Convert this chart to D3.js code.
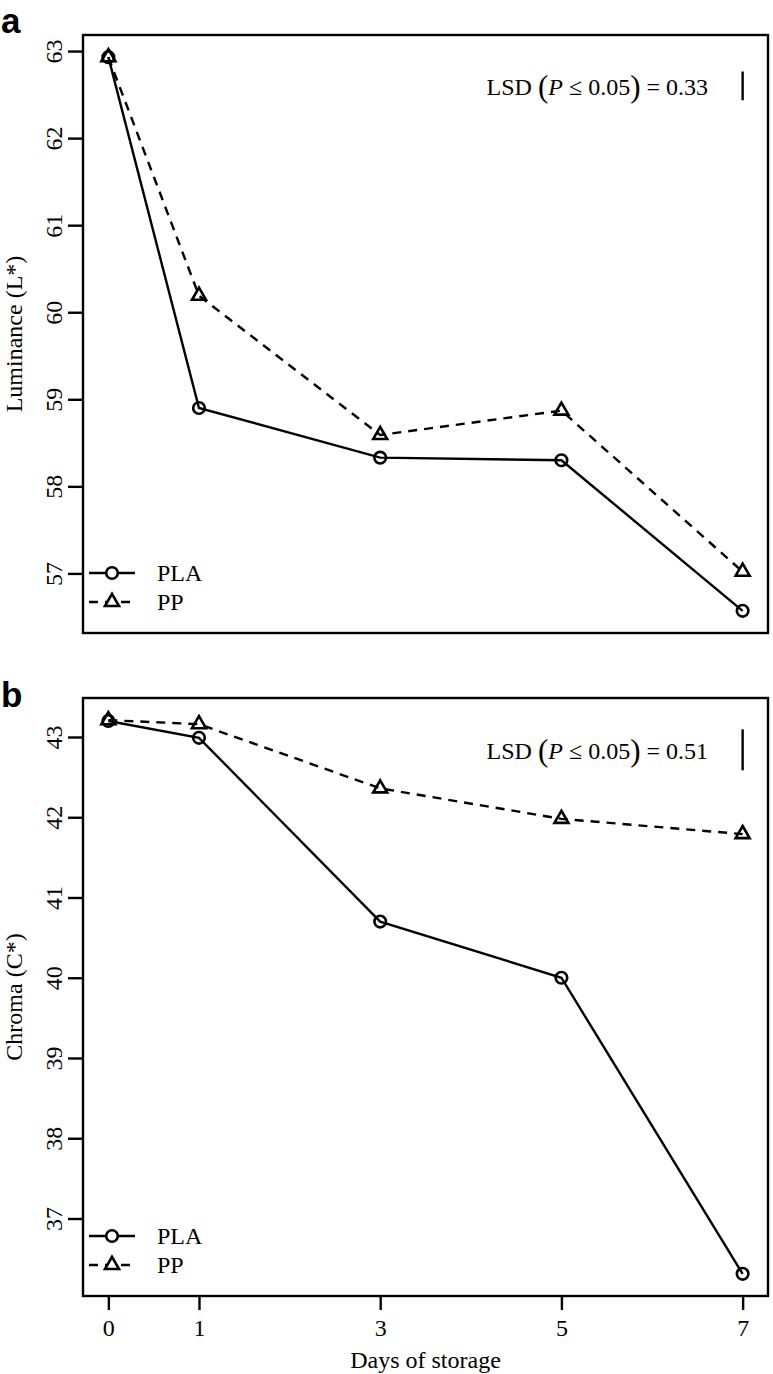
<!DOCTYPE html>
<html><head><meta charset="utf-8">
<script src="https://cdn.jsdelivr.net/npm/d3@7"></script>
<style>
body{margin:0;background:#fff;}
svg{display:block;}
text{font-family:"Liberation Serif","Times New Roman",serif;fill:#000;}
</style></head>
<body>
<script>
// Data
const days = [0, 1, 3, 5, 7];
const xTicks = [0, 1, 3, 5, 7];
const series = ["PLA", "PP"];
const luminancePLA = [62.93, 58.90, 58.33, 58.30, 56.57];
const luminancePP  = [62.93, 60.19, 58.59, 58.87, 57.02];
const chromaPLA = [43.20, 42.99, 40.70, 40.00, 36.31];
const chromaPP  = [43.21, 43.16, 42.36, 41.98, 41.79];
const luminanceTicks = [57, 58, 59, 60, 61, 62, 63];
const chromaTicks = [37, 38, 39, 40, 41, 42, 43];
const lsdValues = [0.33, 0.51];
const lsdCenters = [62.6, 42.84];
const panelLetters = ["a", "b"];
const yTitles = ["Luminance (L*)", "Chroma (C*)"];
const xTitle = "Days of storage";

const W = 773, H = 1374;
const svg = d3.select("body").append("svg").attr("width", W).attr("height", H);

const left = 83, right = 768;
const LW = 2.4;
const xPad = (d3.max(days) - d3.min(days)) * 0.04;
const x = d3.scaleLinear().domain([d3.min(days) - xPad, d3.max(days) + xPad]).range([left, right]);

const panels = [
  {top: 35, bottom: 633, pla: luminancePLA, pp: luminancePP, ticks: luminanceTicks, showX: false, letterY: 33},
  {top: 698, bottom: 1296, pla: chromaPLA, pp: chromaPP, ticks: chromaTicks, showX: true, letterY: 707}
];

function trianglePath(cx, cy, s) {
  const h = s * Math.sqrt(3) / 2;
  return `M${cx},${cy - h * 2/3}L${cx + s/2},${cy + h/3}L${cx - s/2},${cy + h/3}Z`;
}

panels.forEach((p, i) => {
  const all = p.pla.concat(p.pp);
  const ext = d3.extent(all);
  const pad = (ext[1] - ext[0]) * 0.04;
  const y = d3.scaleLinear().domain([ext[0] - pad, ext[1] + pad]).range([p.bottom, p.top]);
  const g = svg.append("g");

  // box
  g.append("rect").attr("x", left).attr("y", p.top).attr("width", right - left).attr("height", p.bottom - p.top)
    .attr("fill", "none").attr("stroke", "#000").attr("stroke-width", LW);

  // y axis
  const yAxis = d3.axisLeft(y).tickValues(p.ticks).tickSize(15).tickFormat(d3.format("d"));
  const ya = g.append("g").attr("transform", `translate(${left},0)`).call(yAxis);
  ya.select(".domain").remove();
  ya.selectAll(".tick line").attr("stroke", "#000").attr("stroke-width", LW);
  ya.selectAll(".tick text").attr("font-size", 24).attr("font-family", "Liberation Serif")
    .attr("x", 0).attr("dy", 0).attr("text-anchor", "middle")
    .attr("transform", "translate(-22,0) rotate(-90)").attr("y", 1);

  // x axis
  if (p.showX) {
    const xAxis = d3.axisBottom(x).tickValues(xTicks).tickSize(14).tickFormat(d3.format("d"));
    const xa = g.append("g").attr("transform", `translate(0,${p.bottom})`).call(xAxis);
    xa.select(".domain").remove();
    xa.selectAll(".tick line").attr("stroke", "#000").attr("stroke-width", LW);
    xa.selectAll(".tick text").attr("font-size", 24).attr("font-family", "Liberation Serif")
      .attr("y", 23).attr("dy", "0.71em");
    g.append("text").attr("x", (left + right) / 2).attr("y", 1368).attr("text-anchor", "middle")
      .attr("font-size", 24).text(xTitle);
  }

  // y title
  g.append("text").attr("transform", `translate(22,${(p.top + p.bottom) / 2}) rotate(-90)`)
    .attr("text-anchor", "middle").attr("font-size", 24).text(yTitles[i]);

  // panel letter
  g.append("text").attr("x", 1).attr("y", p.letterY).attr("font-size", 35).attr("font-weight", "bold")
    .style("font-family", "'Liberation Sans', Arial, sans-serif").text(panelLetters[i]);

  const line = d3.line().x((d, j) => x(days[j])).y(d => y(d));

  // PP dashed
  g.append("path").datum(p.pp).attr("d", line).attr("fill", "none").attr("stroke", "#000")
    .attr("stroke-width", LW).attr("stroke-dasharray", "9,7");
  // PLA solid
  g.append("path").datum(p.pla).attr("d", line).attr("fill", "none").attr("stroke", "#000")
    .attr("stroke-width", LW);

  g.selectAll(".tri").data(p.pp).enter().append("path")
    .attr("d", (d, j) => trianglePath(x(days[j]), y(d), 14))
    .attr("fill", "none").attr("stroke", "#000").attr("stroke-width", 2.6);
  g.selectAll(".circ").data(p.pla).enter().append("circle")
    .attr("cx", (d, j) => x(days[j])).attr("cy", d => y(d)).attr("r", 5.8)
    .attr("fill", "none").attr("stroke", "#000").attr("stroke-width", 2.6);

  // LSD bar
  const lsd = lsdValues[i];
  const c = lsdCenters[i];
  g.append("line").attr("x1", x(7)).attr("x2", x(7)).attr("y1", y(c + lsd / 2)).attr("y2", y(c - lsd / 2))
    .attr("stroke", "#000").attr("stroke-width", LW);
  const ty = y(c) + 9;
  const t = g.append("text").attr("x", 708).attr("y", ty).attr("text-anchor", "end").attr("font-size", 24);
  t.append("tspan").text("LSD ");
  t.append("tspan").attr("font-size", 31).attr("dy", 2).text("(");
  t.append("tspan").attr("font-style", "italic").attr("dy", -2).text("P");
  t.append("tspan").text(" \u2264 0.05");
  t.append("tspan").attr("font-size", 31).attr("dy", 2).text(")");
  t.append("tspan").attr("dy", -2).text(" = " + lsd.toFixed(2));

  // legend
  const legY = [p.bottom - 60, p.bottom - 31];
  const lg = g.append("g");
  lg.append("line").attr("x1", 89).attr("x2", 135).attr("y1", legY[0]).attr("y2", legY[0])
    .attr("stroke", "#000").attr("stroke-width", LW);
  lg.append("circle").attr("cx", 112).attr("cy", legY[0]).attr("r", 5.8).attr("fill", "#fff")
    .attr("stroke", "#000").attr("stroke-width", 2.6);
  lg.append("line").attr("x1", 89).attr("x2", 135).attr("y1", legY[1]).attr("y2", legY[1])
    .attr("stroke", "#000").attr("stroke-width", LW).attr("stroke-dasharray", "9,7");
  lg.append("path").attr("d", trianglePath(112, legY[1], 14)).attr("fill", "#fff")
    .attr("stroke", "#000").attr("stroke-width", 2.6);
  series.forEach((s, k) => {
    lg.append("text").attr("x", 157).attr("y", legY[k] + 8).attr("font-size", 24).text(s);
  });
});
</script>
</body></html>
